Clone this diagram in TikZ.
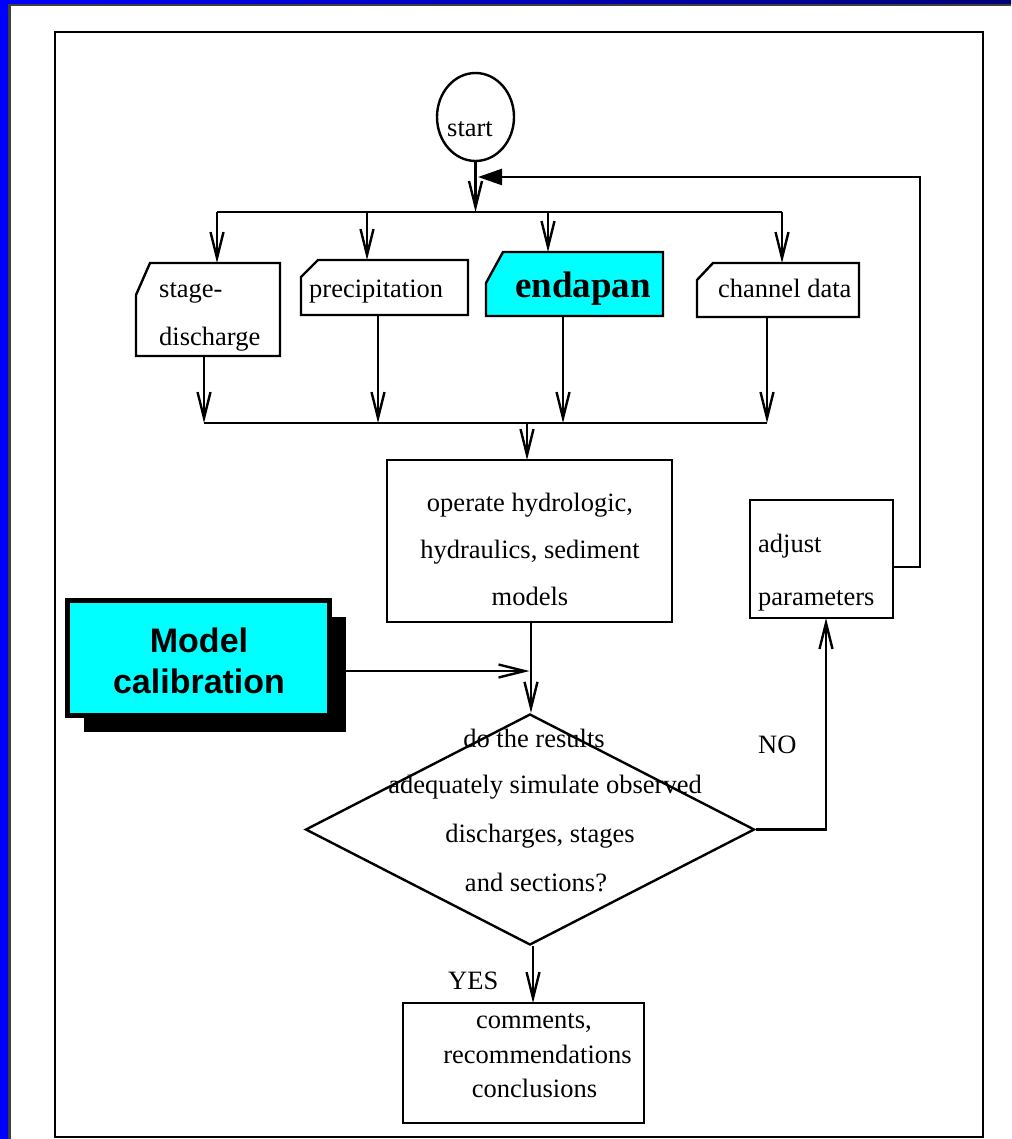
\documentclass[tikz,border=0pt]{standalone}
\usepackage{fontspec}
\setmainfont{Liberation Serif}
\newfontfamily\calibfont{Liberation Sans}
\usetikzlibrary{arrows.meta,positioning,shapes.geometric,shadows}

\definecolor{aqua}{RGB}{0,255,255}
\definecolor{slideblue}{RGB}{0,0,255}
\definecolor{slidenavy}{RGB}{0,0,120}

\tikzset{
  box/.style={draw,rectangle,inner sep=0pt,outer sep=0pt},
  cardbox/.style={rectangle,inner sep=0pt,outer sep=0pt},
  lbl/.style={inner sep=0pt,anchor=base west},
  lblc/.style={inner sep=0pt,anchor=base},
}
% card outline with the top left corner cut off
\newcommand\cardoutline[4][]{%
  \draw[#1] ([xshift=#3]#2.north west) -- (#2.north east) -- (#2.south east)
    -- (#2.south west) -- ([yshift=-#4]#2.north west) -- cycle;}

\begin{document}
\begin{tikzpicture}[x=1pt,y=-1pt,line width=2.4pt,
    >={Straight Barb[length=26pt,width=13pt]},
    font=\fontsize{26.5}{30}\selectfont]

    \useasboundingbox (0,0) rectangle (1011,1139);

    % Slide background
    \fill [white] (0,0) rectangle (1011,1139);
    \fill [slideblue] (0,0) rectangle (8,1139);
    \shade [left color=slideblue,right color=slidenavy] (0,0) rectangle (1011,4);
    \draw [black!75,line width=2.5pt] (9.5,1139) -- (9.5,5.2) -- (1011,5.2);

    % Frame
    \draw [line width=2.6pt] (55,32) rectangle (983,1137);

    % Start
    \node [draw,ellipse,minimum width=77pt,minimum height=88pt,inner sep=0pt] (start) at (475.5,117) {};
    \node [lbl] (start-t) at (446,137) {start};

    % Input data cards
    \node [cardbox,minimum width=144pt,minimum height=93pt] (sd) at (208,309.5) {};
    \node [cardbox,minimum width=167pt,minimum height=55pt] (prec) at (384.5,287.5) {};
    \node [cardbox,minimum width=177pt,minimum height=64pt] (endapan) at (574.5,284) {};
    \node [cardbox,minimum width=162pt,minimum height=54pt] (chan) at (778,290) {};
    \cardoutline{sd}{14pt}{32pt}
    \cardoutline{prec}{17pt}{17pt}
    \cardoutline[fill=aqua]{endapan}{17pt}{31pt}
    \cardoutline{chan}{16pt}{17pt}

    \node [lbl] (sd-t1) at (158,298) {stage-};
    \node [lbl] (sd-t2) at (158,345) {discharge};
    \node [lbl] (prec-t) at (308,298) {precipitation};
    \node [lbl,font=\fontsize{37}{40}\selectfont\bfseries] (endapan-t) at (514,298) {endapan};
    \node [lbl] (chan-t) at (717,298) {channel data};

    % Distribution bus
    \coordinate (busL) at (217,212);
    \coordinate (busR) at (782,212);
    \coordinate (dPrec) at (367,212);
    \coordinate (dEnd) at (548,212);
    \draw [->] (start) -- (start |- busL);
    \draw (busL) -- (busR);
    \draw [->] (busL) -- (busL |- sd.north);
    \draw [->] (dPrec) -- (dPrec |- prec.north);
    \draw [->] (dEnd) -- (dEnd |- endapan.north);
    \draw [->] (busR) -- (busR |- chan.north);

    % Operate models
    \node [box,minimum width=285pt,minimum height=162pt] (oper) at (529.5,541) {};
    \node [lblc] (oper-t1) at (530,511) {operate hydrologic,};
    \node [lblc] (oper-t2) at (530,558) {hydraulics, sediment};
    \node [lblc] (oper-t3) at (530,605) {models};

    % Merge bus
    \coordinate (mSd) at (204,423);
    \coordinate (mPrec) at (378,423);
    \coordinate (mEnd) at (563,423);
    \coordinate (mChan) at (767,423);
    \coordinate (mOut) at (527,423);
    \draw [->] (mSd |- sd.south) -- (mSd);
    \draw [->] (mPrec |- prec.south) -- (mPrec);
    \draw [->] (mEnd |- endapan.south) -- (mEnd);
    \draw [->] (mChan |- chan.south) -- (mChan);
    \draw (mSd) -- (mChan);
    \draw [->] (mOut) -- (mOut |- oper.north);

    % Model calibration
    \node [draw=black,fill=aqua,line width=5pt,minimum width=262pt,minimum height=115pt,inner sep=0pt,
        drop shadow={shadow xshift=16pt,shadow yshift=-16pt,opacity=1,fill=black}] (calib) at (198.5,658) {};
    \node [lblc,font=\fontsize{34}{38}\calibfont\bfseries] (calib-t1) at (199,652) {Model};
    \node [lblc,font=\fontsize{34}{38}\calibfont\bfseries] (calib-t2) at (199,693) {calibration};

    % Test
    \node [draw,diamond,minimum width=449pt,minimum height=231pt,inner sep=0pt] (test) at (530,829.5) {};
    \node [lblc] (test-t1) at (534,747) {do the results};
    \node [lblc] (test-t2) at (545,793) {adequately simulate observed};
    \node [lblc] (test-t3) at (540,842) {discharges, stages};
    \node [lblc] (test-t4) at (536,891) {and sections?};

    \draw [->] ([xshift=1.5pt]oper.south) -- ([xshift=1.5pt]oper.south |- test.north);
    \draw [->] ([yshift=-13pt]calib.east) -- ([yshift=-13pt]calib.east -| oper.south);

    % Adjust parameters
    \node [box,minimum width=143pt,minimum height=118pt] (adjust) at (821.5,559) {};
    \node [lbl] (adjust-t1) at (757,552) {adjust};
    \node [lbl] (adjust-t2) at (757,605) {parameters};
    \node [lbl] (no) at (757,753) {NO};
    \draw [->] (test.east) -| ([xshift=4.5pt]adjust.south);

    % Feedback loop
    \coordinate (fbTop) at (920,177);
    \coordinate (fbEnd) at (478,177);
    \draw [-{Triangle[length=24pt,width=16pt]}] ([yshift=-8pt]adjust.east) -| (fbTop) -- (fbEnd);

    % Conclusions
    \node [box,minimum width=241pt,minimum height=120pt] (concl) at (523.5,1063) {};
    \node [lblc] (concl-t1) at (534,1028) {comments,};
    \node [lblc] (concl-t2) at (537.5,1063) {recommendations};
    \node [lblc] (concl-t3) at (534.5,1097) {conclusions};
    \node [lbl] (yes) at (447,989) {YES};
    \draw [->] ([xshift=3pt]test.south) -- ([xshift=3pt]test.south |- concl.north);

\end{tikzpicture}
\end{document}
